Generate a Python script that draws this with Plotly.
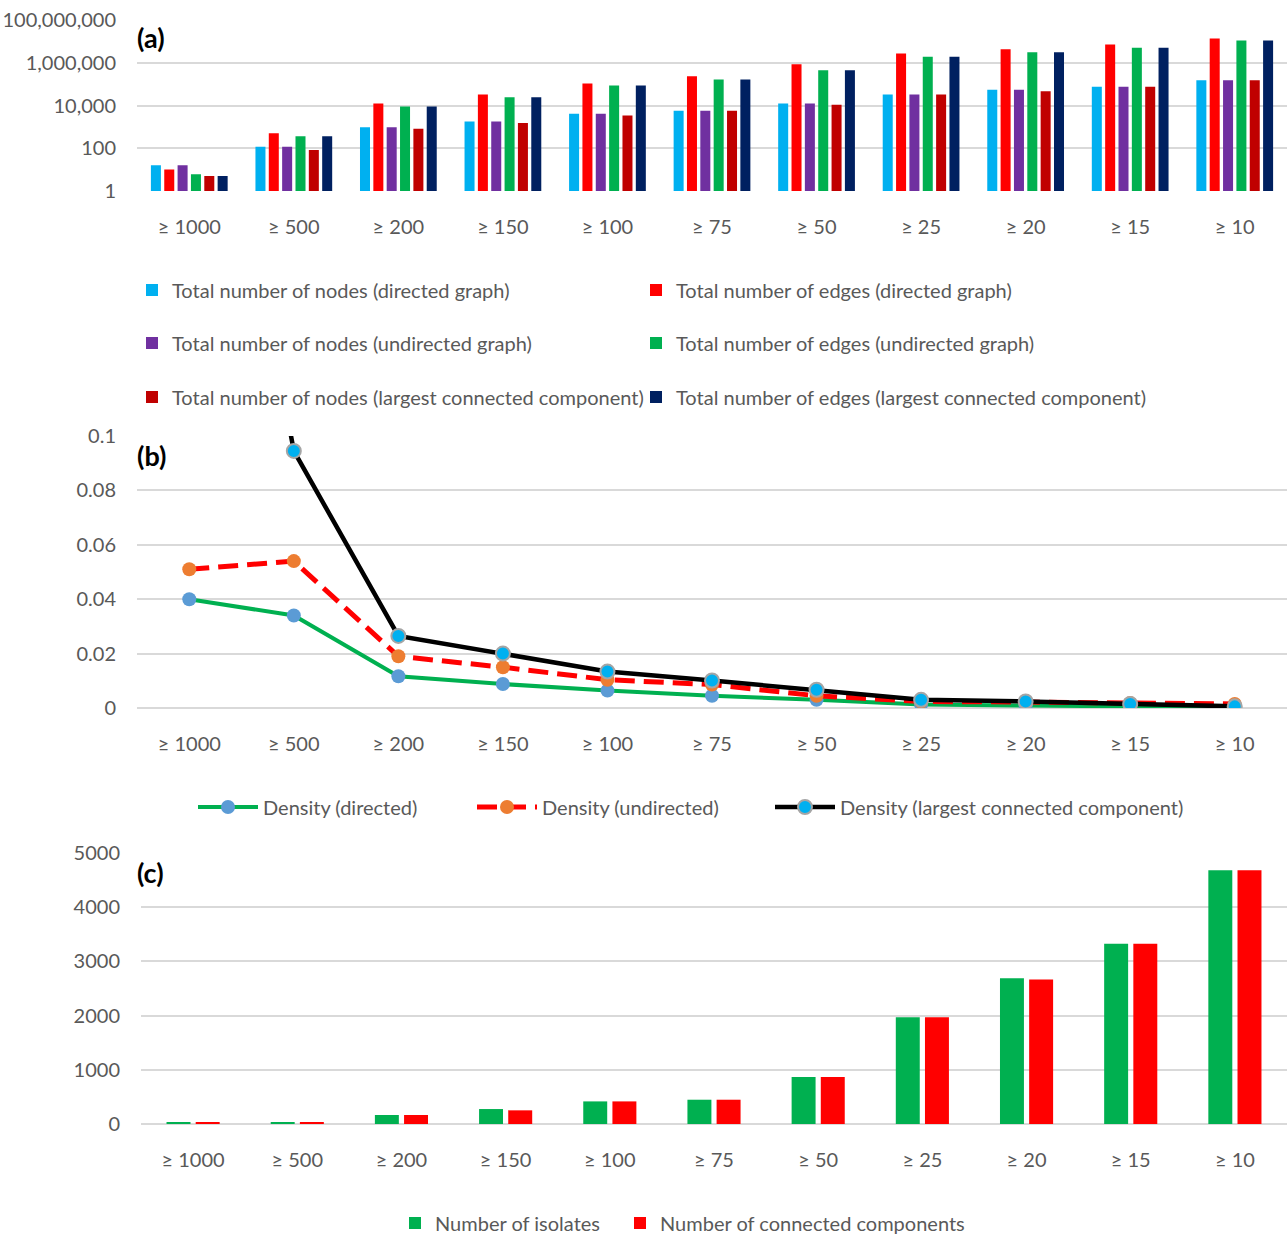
import plotly.graph_objects as go

# Degree thresholds shared by all three panels
categories = ["≥ 1000", "≥ 500", "≥ 200", "≥ 150", "≥ 100", "≥ 75",
              "≥ 50", "≥ 25", "≥ 20", "≥ 15", "≥ 10"]

# (a) Graph sizes (log scale)
nodes_directed = [16, 117, 950, 1800, 4100, 5650, 12500, 33000, 54000, 75000, 150000]
edges_directed = [10, 500, 12500, 33000, 108000, 236000, 860000, 2700000, 4300000, 7200000, 13700000]
nodes_undirected = [16, 117, 950, 1800, 4100, 5650, 12500, 33000, 54000, 75000, 150000]
edges_undirected = [6, 360, 9100, 24000, 87000, 165000, 450000, 1900000, 3100000, 5000000, 11000000]
nodes_lcc = [5, 83, 815, 1500, 3450, 5650, 10800, 33000, 46000, 75000, 150000]
edges_lcc = [5, 360, 9100, 24000, 87000, 165000, 450000, 1900000, 3100000, 5000000, 11000000]

# (b) Densities
density_directed = [0.040, 0.034, 0.0117, 0.0088, 0.0064, 0.0045, 0.0030, 0.0013, 0.0009, 0.0006, 0.0003]
density_undirected = [0.051, 0.054, 0.019, 0.015, 0.0104, 0.0086, 0.0045, 0.0024, 0.0022, 0.0018, 0.0015]
density_lcc = [0.30, 0.0945, 0.0265, 0.020, 0.0134, 0.0101, 0.0067, 0.0030, 0.0024, 0.0015, 0.0006]

# (c) Isolates and components
isolates = [25, 25, 166, 276, 417, 448, 866, 1970, 2689, 3326, 4684]
components = [25, 25, 166, 252, 417, 448, 866, 1970, 2664, 3326, 4684]

log_tickvals = [1, 100, 10000, 1000000, 100000000]
log_ticktext = ["1", "100", "10,000", "1,000,000", "100,000,000"]

W, H = 1287, 1237
FONT = "Lato, Carlito, Open Sans, sans-serif"
GRAY = "#595959"
GRID = "#d9d9d9"


def py(px):
    """Convert a pixel row (from top) to paper y."""
    return 1 - px / H


def px_x(px):
    return px / W


fig = go.Figure()

# ---- panel (a): grouped bars on a log axis, one legend per entry
bar_series = [
    ("Total number of nodes (directed graph)", nodes_directed, "#00B0F0", "legend"),
    ("Total number of edges (directed graph)", edges_directed, "#FF0000", "legend2"),
    ("Total number of nodes (undirected graph)", nodes_undirected, "#7030A0", "legend3"),
    ("Total number of edges (undirected graph)", edges_undirected, "#00B050", "legend4"),
    ("Total number of nodes (largest connected component)", nodes_lcc, "#C00000", "legend5"),
    ("Total number of edges (largest connected component)", edges_lcc, "#002060", "legend6"),
]
for name, vals, color, lg in bar_series:
    fig.add_trace(go.Bar(x=categories, y=vals, name=name, marker_color=color,
                         marker_line_width=0, xaxis="x", yaxis="y", legend=lg))

# ---- panel (b): density lines
fig.add_trace(go.Scatter(
    x=categories, y=density_directed, name="Density (directed)", mode="lines+markers",
    line=dict(color="#00B050", width=4), marker=dict(color="#5B9BD5", size=14),
    xaxis="x2", yaxis="y2", legend="legend7"))
fig.add_trace(go.Scatter(
    x=categories, y=density_undirected, name="Density (undirected)", mode="lines+markers",
    line=dict(color="#FF0000", width=5, dash="20px,9px"), marker=dict(color="#ED7D31", size=14),
    xaxis="x2", yaxis="y2", legend="legend8"))
fig.add_trace(go.Scatter(
    x=categories, y=density_lcc, name="Density (largest connected component)", mode="lines+markers",
    line=dict(color="#000000", width=4.5),
    marker=dict(color="#00B0F0", size=14, line=dict(color="#A5A5A5", width=2)),
    xaxis="x2", yaxis="y2", legend="legend9"))

# ---- panel (c): isolates vs components
fig.add_trace(go.Bar(x=categories, y=isolates, name="Number of isolates",
                     marker_color="#00B050", marker_line_width=0,
                     width=0.23, offset=-0.255, xaxis="x3", yaxis="y3", legend="legend10"))
fig.add_trace(go.Bar(x=categories, y=components, name="Number of connected components",
                     marker_color="#FF0000", marker_line_width=0,
                     width=0.23, offset=0.025, xaxis="x3", yaxis="y3", legend="legend11"))

tickfont = dict(family=FONT, size=20, color=GRAY)
xcommon = dict(type="category", showgrid=False, zeroline=False, showline=False,
               ticks="", tickfont=tickfont, ticklabelstandoff=22, range=[-0.5, 10.5],
               automargin=False)
ycommon = dict(showgrid=True, gridcolor=GRID, gridwidth=1.5, showline=False,
               ticks="", tickfont=tickfont, ticklabelstandoff=20, automargin=False)

legfont = dict(family=FONT, size=20, color=GRAY)


def leg(xpx, ypx, **kw):
    d = dict(x=px_x(xpx), y=py(ypx), xanchor="left", yanchor="middle",
             orientation="h", font=legfont, bgcolor="rgba(0,0,0,0)")
    d.update(kw)
    return d


fig.update_layout(
    width=W, height=H,
    margin=dict(l=0, r=0, t=0, b=0, autoexpand=False),
    paper_bgcolor="white", plot_bgcolor="white",
    barmode="group", bargap=0.234, bargroupgap=0.25,
    font=dict(family=FONT, color=GRAY),
    xaxis=dict(domain=[px_x(137), 1], anchor="y", **xcommon),
    yaxis=dict(domain=[py(191), py(20)], anchor="x", type="log", range=[0, 8],
               tickvals=log_tickvals, ticktext=log_ticktext, zeroline=False, **ycommon),
    xaxis2=dict(domain=[px_x(137), 1], anchor="y2", **xcommon),
    yaxis2=dict(domain=[py(708), py(436)], anchor="x2", range=[0, 0.1],
                tickvals=[0, 0.02, 0.04, 0.06, 0.08, 0.1],
                ticktext=["0", "0.02", "0.04", "0.06", "0.08", "0.1"],
                zeroline=True, zerolinecolor=GRID, zerolinewidth=1.5, **ycommon),
    xaxis3=dict(domain=[px_x(141), 1], anchor="y3", **xcommon),
    yaxis3=dict(domain=[py(1124), py(853)], anchor="x3", range=[0, 5000],
                tickvals=[0, 1000, 2000, 3000, 4000, 5000],
                zeroline=True, zerolinecolor=GRID, zerolinewidth=1.5, **ycommon),
    legend=leg(132, 290),
    legend2=leg(636, 290),
    legend3=leg(132, 343),
    legend4=leg(636, 343),
    legend5=leg(132, 397),
    legend6=leg(636, 397),
    legend7=leg(193, 807, itemwidth=60),
    legend8=leg(472, 807, itemwidth=60),
    legend9=leg(770, 807, itemwidth=60),
    legend10=leg(395, 1223),
    legend11=leg(620, 1223),
    showlegend=True,
)

# Panel letters
for label, ytop in [("(a)", 38), ("(b)", 455), ("(c)", 872)]:
    fig.add_annotation(text=f"<b>{label}</b>", xref="paper", yref="paper",
                       x=px_x(135), y=py(ytop), xanchor="left", yanchor="middle",
                       showarrow=False, font=dict(family=FONT, size=27, color="black"))

fig.write_html("out.html")
